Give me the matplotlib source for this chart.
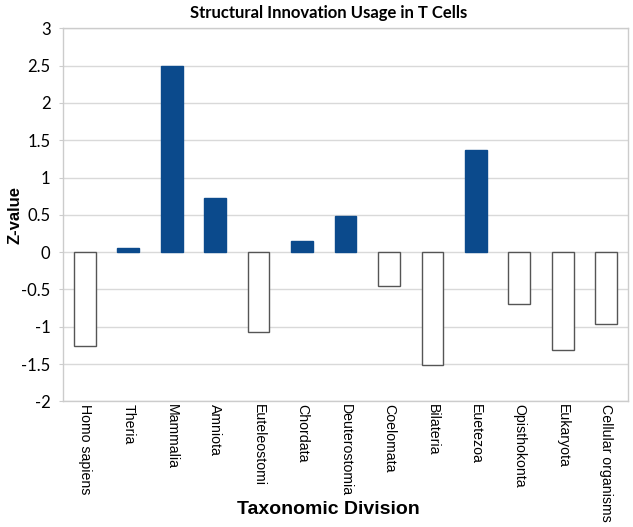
import matplotlib
matplotlib.use("Agg")
import matplotlib.pyplot as plt

categories = ["Homo sapiens", "Theria", "Mammalia", "Amniota", "Euteleostomi",
              "Chordata", "Deuterostomia", "Coelomata", "Bilateria", "Euetezoa",
              "Opisthokonta", "Eukaryota", "Cellular organisms"]
values = [-1.26, 0.06, 2.49, 0.72, -1.07, 0.15, 0.48, -0.46, -1.51, 1.37,
          -0.69, -1.31, -0.96]
yticks = [3, 2.5, 2, 1.5, 1, 0.5, 0, -0.5, -1, -1.5, -2]

fig = plt.figure(figsize=(6.33, 5.27), dpi=100)
ax = fig.add_axes([0.0995, 0.2385, 0.8926, 0.7078])

x = list(range(len(categories)))
faces = ["#0B4A8C" if v >= 0 else "white" for v in values]
edges = ["#0B4A8C" if v >= 0 else "#555555" for v in values]
ax.bar(x, values, width=0.5, color=faces, edgecolor=edges, linewidth=1.0, zorder=3)

ax.set_xlim(-0.5, len(categories) - 0.5)
ax.set_ylim(-2, 3)
ax.set_yticks(yticks)
ax.set_yticklabels([f"{t:g}" for t in yticks], fontsize=12, family="Lato")
ax.yaxis.grid(True, color="#d9d9d9", linewidth=1.0, zorder=0)
ax.tick_params(axis="y", length=3, color="#cccccc", pad=6)
ax.set_xticks(x)
ax.set_xticklabels(categories, rotation=270, fontsize=10.2, family="Liberation Sans",
                   va="top", ha="center")
ax.tick_params(axis="x", length=0, pad=2)
for s in ax.spines.values():
    s.set_color("#cccccc")
    s.set_linewidth(1.0)

fig.text(15 / 633, 1 - 215 / 527, "Z-value", rotation=90, ha="center", va="center",
         fontsize=12, fontweight="bold", family="Liberation Sans")
fig.text(328 / 633, 1 - 510 / 527, "Taxonomic Division", ha="center", va="center",
         fontsize=14, fontweight="bold", family="Liberation Sans")
fig.text(329 / 633, 1 - 13 / 527, "Structural Innovation Usage in T Cells",
         ha="center", va="center", fontsize=12, fontweight="bold", family="Lato")

fig.savefig("out.png", dpi=100)
